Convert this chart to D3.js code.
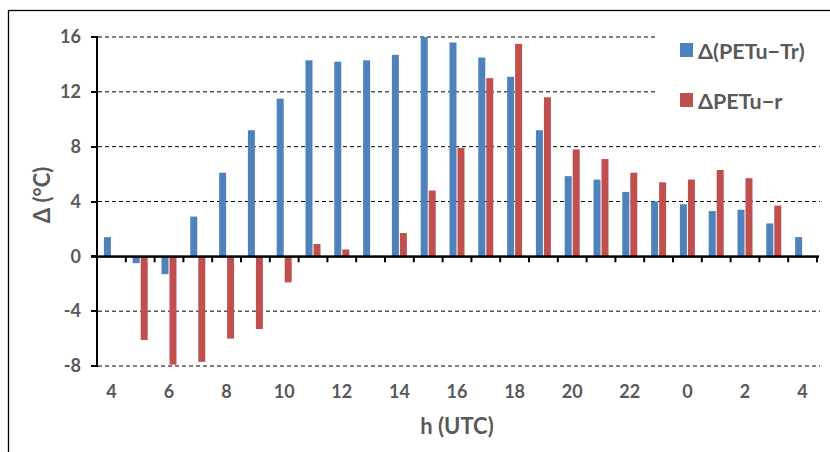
<!DOCTYPE html>
<html>
<head>
<meta charset="utf-8">
<script src="https://cdn.jsdelivr.net/npm/d3@7"></script>
<style>
  body { margin: 0; background: #fff; }
  text { font-family: Lato, "Open Sans", sans-serif; font-weight: 700; fill: #595959; }
</style>
</head>
<body>
<div class="chart"></div>
<script>
// -----------------------------------------------------------------------
// Data
// -----------------------------------------------------------------------

// hours along the x axis (UTC), one day from 4 to 4
const hours = [4, 5, 6, 7, 8, 9, 10, 11, 12, 13, 14, 15, 16, 17, 18, 19, 20, 21, 22, 23, 0, 1, 2, 3, 4];

// Δ(PETu−Tr)
const deltaTr = [1.4, -0.5, -1.3, 2.9, 6.1, 9.2, 11.5, 14.3, 14.2, 14.3, 14.7, 16.0, 15.6, 14.5, 13.1,
  9.2, 5.85, 5.6, 4.7, 4.0, 3.8, 3.3, 3.4, 2.4, 1.4];

// ΔPETu−r
const deltaR = [0, -6.1, -7.9, -7.7, -6.0, -5.3, -1.9, 0.9, 0.5, 0, 1.7, 4.8, 7.9, 13.0, 15.5,
  11.6, 7.8, 7.1, 6.1, 5.4, 5.6, 6.3, 5.7, 3.7, 0];

const yTicks = [-8, -4, 0, 4, 8, 12, 16];
const seriesNames = ["Δ(PETu−Tr)", "ΔPETu−r"];
const seriesColors = ["#4F81BD", "#C0504D"];

// -----------------------------------------------------------------------
// Layout
// -----------------------------------------------------------------------

const width = 830;
const height = 452;
const plot = { left: 97, right: 817, top: 37, bottom: 366 };

const svg = d3.select(".chart")
  .append("svg")
  .attr("width", width)
  .attr("height", height);

// outer frame, cut off on the right and bottom like the picture
svg.append("rect")
  .attr("x", 8.5)
  .attr("y", 10.5)
  .attr("width", width + 10)
  .attr("height", height + 10)
  .attr("fill", "none")
  .attr("stroke", "#000")
  .attr("stroke-width", 1.3);

const xScale = d3.scaleBand()
  .domain(d3.range(hours.length))
  .range([plot.left, plot.right]);

const yScale = d3.scaleLinear()
  .domain([-8, 16])
  .range([plot.bottom, plot.top]);

// dashed gridlines (the top two stop short of the legend)
svg.append("g")
  .selectAll("line")
  .data(yTicks.filter(d => d !== 0))
  .join("line")
  .attr("x1", plot.left + 1)
  .attr("x2", d => d >= 12 ? 658 : 820)
  .attr("y1", d => yScale(d))
  .attr("y2", d => yScale(d))
  .attr("stroke", "#000")
  .attr("stroke-width", 1)
  .attr("stroke-dasharray", "4,3");

// bars
const barW = 7;
const series = [deltaTr, deltaR];
series.forEach((values, s) => {
  svg.append("g")
    .selectAll("rect")
    .data(values)
    .join("rect")
    .attr("x", (d, i) => xScale(i) + xScale.bandwidth() / 2 + (s === 0 ? -barW - 0.5 : 0.5))
    .attr("width", barW)
    .attr("y", d => yScale(Math.max(0, d)))
    .attr("height", d => Math.abs(yScale(d) - yScale(0)))
    .attr("fill", seriesColors[s]);
});

// y axis labels from d3
const yAxis = svg.append("g")
  .attr("transform", `translate(${plot.left}, 0)`)
  .call(d3.axisLeft(yScale).tickValues(yTicks).tickSize(0).tickPadding(16).tickFormat(d => String(d)));
yAxis.select(".domain").remove();
yAxis.selectAll("text").attr("font-size", 18).attr("fill", "#595959")
  .attr("font-family", "Lato, sans-serif").attr("font-weight", 700);

// x axis at zero, ticks between categories
const zeroY = yScale(0);
svg.append("rect")
  .attr("x", plot.left - 6)
  .attr("y", zeroY - 1)
  .attr("width", plot.right - plot.left + 8)
  .attr("height", 2.5)
  .attr("fill", "#000");
svg.append("g")
  .selectAll("rect")
  .data(d3.range(1, hours.length + 1))
  .join("rect")
  .attr("x", i => (i < hours.length ? xScale(i) : plot.right) - 1)
  .attr("y", zeroY)
  .attr("width", 2)
  .attr("height", 6)
  .attr("fill", "#000");

// category labels below the plot, every second hour
svg.append("g")
  .selectAll("text")
  .data(hours.map((h, i) => ({ h, i })).filter(d => d.i % 2 === 0))
  .join("text")
  .attr("x", d => xScale(d.i) + xScale.bandwidth() / 2)
  .attr("y", 398)
  .attr("text-anchor", "middle")
  .attr("font-size", 18)
  .text(d => d.h);

// axis titles
svg.append("text")
  .attr("x", (plot.left + plot.right) / 2)
  .attr("y", 434)
  .attr("text-anchor", "middle")
  .attr("font-size", 22)
  .text("h (UTC)");

svg.append("text")
  .attr("transform", "translate(50, 195) rotate(-90)")
  .attr("text-anchor", "middle")
  .attr("font-size", 22)
  .text("Δ (°C)");

// legend
const legend = svg.append("g")
  .selectAll("g")
  .data(seriesNames)
  .join("g")
  .attr("transform", (d, i) => `translate(680, ${43 + i * 50})`);
legend.append("rect")
  .attr("width", 13)
  .attr("height", 14)
  .attr("fill", (d, i) => seriesColors[i]);
legend.append("text")
  .attr("x", 18)
  .attr("y", 16)
  .attr("font-size", 21.5)
  .text(d => d);

// vertical axis line and its ticks, drawn last so nothing sits on top
svg.append("line")
  .attr("x1", plot.left)
  .attr("x2", plot.left)
  .attr("y1", plot.top - 1)
  .attr("y2", plot.bottom + 1)
  .attr("stroke", "#000")
  .attr("stroke-width", 2.5)
  .attr("shape-rendering", "crispEdges");
svg.append("g")
  .selectAll("line")
  .data(yTicks)
  .join("line")
  .attr("x1", plot.left - 6)
  .attr("x2", plot.left)
  .attr("y1", d => yScale(d))
  .attr("y2", d => yScale(d))
  .attr("stroke", "#000")
  .attr("stroke-width", 2)
  .attr("shape-rendering", "crispEdges");
</script>
</body>
</html>
